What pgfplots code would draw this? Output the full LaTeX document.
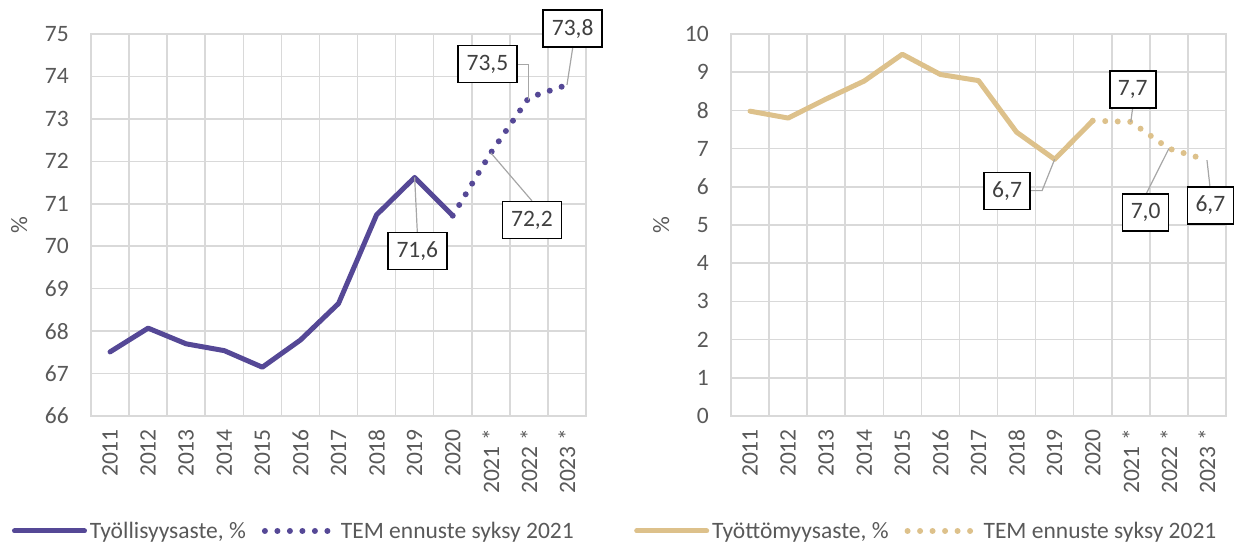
\documentclass[border=0pt]{standalone}
\usepackage{pgfplots}
\pgfplotsset{compat=1.18}
\usepackage{fontspec}
\setmainfont{Carlito}
\definecolor{purp}{RGB}{85,72,150}
\definecolor{tanc}{RGB}{221,193,139}
\definecolor{txt}{RGB}{89,89,89}
\definecolor{boxtxt}{RGB}{64,64,64}
\definecolor{gridc}{RGB}{217,217,217}
\definecolor{lead}{RGB}{166,166,166}
\newcommand{\fs}{\fontsize{23.5}{27}\selectfont}
\tikzset{
  dlab/.style={draw=black, line width=1.6pt, fill=white, text=boxtxt, font=\fs, minimum height=37pt, inner sep=0pt},
  leadl/.style={lead, line width=1.2pt},
}
\pgfplotsset{
 mybase/.style={
  scale only axis, width=495pt, height=382pt,
  xmin=-0.5, xmax=12.5,
  xtick={0,...,12},
  xticklabels={2011,2012,2013,2014,2015,2016,2017,2018,2019,2020,2021 *,2022 *,2023 *},
  minor xtick={-0.5,0.5,...,12.5},
  xminorgrids=true, ymajorgrids=true, xmajorgrids=false,
  grid style={gridc, line width=1.5pt},
  minor grid style={gridc, line width=1.5pt},
  axis line style={gridc, line width=1.5pt},
  major tick length=0pt, minor tick length=0pt,
  /pgf/number format/assume math mode=true,
  tick label style={font=\fs, text=txt},
  xticklabel style={rotate=90, anchor=east, inner sep=0pt},
  xticklabel shift=13pt,
  yticklabel style={anchor=east, inner sep=0pt},
  yticklabel shift=22pt,
  ylabel={\%},
  label style={font=\fs, text=txt},
  clip=false,
  legend columns=2,
  legend cell align=left,
  legend style={draw=none, fill=none, inner sep=0pt, font=\fs, text=txt, anchor=west,
     /tikz/every even column/.append style={column sep=13pt},
     nodes={inner sep=3pt}},
  legend image code/.code={\draw[#1] (0pt,0pt) -- (70pt,0pt);},
 }
}
\begin{document}
\begin{tikzpicture}
\useasboundingbox (0,0) rectangle (1241pt,547pt);
% ---------- left panel ----------
\begin{axis}[mybase, at={(91pt,131pt)}, anchor=south west,
  ymin=66, ymax=75, ytick={66,...,75},
  ylabel style={at={(axis description cs:-0.145,0.5)}, anchor=center},
  legend style={at={(axis description cs:-0.16,-0.301)}}]
\addplot[purp, line width=5pt, line join=round, line cap=round] coordinates {
 (0,67.51) (1,68.07) (2,67.70) (3,67.54) (4,67.15) (5,67.79) (6,68.65) (7,70.74) (8,71.62) (9,70.72)};
\addlegendentry{Työllisyysaste, \%}
\addplot[purp, line width=6pt, line cap=round, dash pattern=on 0pt off 12.5pt] coordinates {
 (9,70.72) (10,72.2) (11,73.5) (12,73.8)};
\addlegendentry{TEM ennuste syksy 2021}
\draw[leadl] (axis cs:8,71.62) -- (axis cs:8.07,70.33);
\draw[leadl] (axis cs:10,72.2) -- (axis cs:11.08,71.07);
\draw[leadl] (axis cs:10.98,73.45) -- (axis cs:10.98,74.29) -- (axis cs:10.69,74.29);
\draw[leadl] (axis cs:12,73.8) -- (axis cs:12.15,74.67);
\node[dlab, minimum width=59pt] at (axis cs:8.07,69.89) {71,6};
\node[dlab, minimum width=59pt] at (axis cs:11.08,70.62) {72,2};
\node[dlab, minimum width=59pt] at (axis cs:9.91,74.29) {73,5};
\node[dlab, minimum width=59pt] at (axis cs:12.15,75.13) {73,8};
\end{axis}
% ---------- right panel ----------
\begin{axis}[mybase, at={(731pt,131pt)}, anchor=south west,
  ymin=0, ymax=10, ytick={0,...,10},
  ylabel style={at={(axis description cs:-0.141,0.5)}, anchor=center},
  legend style={at={(axis description cs:-0.196,-0.301)}}]
\addplot[tanc, line width=5pt, line join=round, line cap=round] coordinates {
 (0,7.98) (1,7.80) (2,8.30) (3,8.77) (4,9.47) (5,8.94) (6,8.78) (7,7.43) (8,6.72) (9,7.73)};
\addlegendentry{Työttömyysaste, \%}
\addplot[tanc, line width=6pt, line cap=round, dash pattern=on 0pt off 12.5pt] coordinates {
 (9,7.73) (10,7.7) (11,7.0) (12,6.7)};
\addlegendentry{TEM ennuste syksy 2021}
\draw[leadl] (axis cs:8,6.72) -- (axis cs:7.67,5.90) -- (axis cs:7.37,5.90);
\draw[leadl] (axis cs:10,7.7) -- (axis cs:10.05,8.08);
\draw[leadl] (axis cs:11,7.0) -- (axis cs:10.40,5.81);
\draw[leadl] (axis cs:12,6.7) -- (axis cs:12.08,5.99);
\node[dlab, minimum width=46pt] at (axis cs:6.75,5.89) {6,7};
\node[dlab, minimum width=46pt] at (axis cs:10.05,8.55) {7,7};
\node[dlab, minimum width=46pt] at (axis cs:10.39,5.32) {7,0};
\node[dlab, minimum width=46pt] at (axis cs:12.09,5.51) {6,7};
\end{axis}
\end{tikzpicture}
\end{document}
